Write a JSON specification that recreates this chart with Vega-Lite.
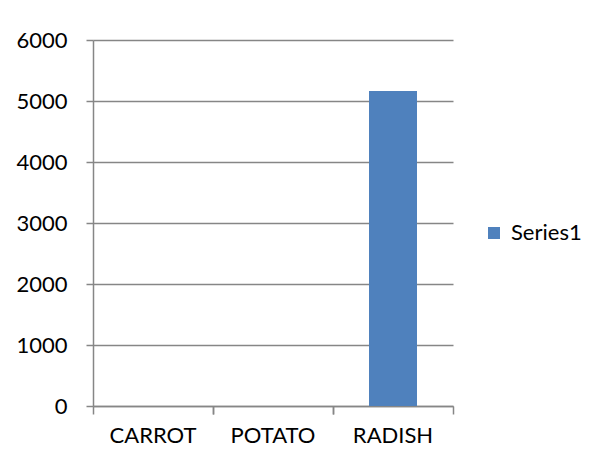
{
  "$schema": "https://vega.github.io/schema/vega-lite/v6.json",
  "width": 360,
  "height": 366,
  "autosize": {"type": "none"},
  "padding": {"left": 93, "top": 40, "right": 150, "bottom": 51},
  "background": "white",
  "config": {
    "font": "Lato",
    "view": {"stroke": null},
    "axis": {
      "labelFont": "Lato",
      "labelFontSize": 22,
      "labelColor": "#000000",
      "domainColor": "#868686",
      "domainWidth": 1.5,
      "tickColor": "#868686",
      "tickWidth": 1.5,
      "gridColor": "#868686",
      "gridWidth": 1.5,
      "title": null
    },
    "legend": {"labelFont": "Lato", "labelFontSize": 22, "labelColor": "#000000"}
  },
  "data": {
    "values": [
      {"crop": "CARROT", "value": 0, "series": "Series1"},
      {"crop": "POTATO", "value": 0, "series": "Series1"},
      {"crop": "RADISH", "value": 5165, "series": "Series1"}
    ]
  },
  "layer": [
    {
      "mark": {"type": "bar", "width": {"band": 0.4}},
      "encoding": {
        "x": {
          "field": "crop",
          "type": "nominal",
          "sort": null,
          "scale": {"paddingInner": 0, "paddingOuter": 0},
          "axis": {
            "orient": "bottom",
            "labelAngle": 0,
            "bandPosition": 0,
            "tickSize": 8,
            "labelPadding": 11,
            "grid": false
          }
        },
        "y": {
          "field": "value",
          "type": "quantitative",
          "scale": {"domain": [0, 6000], "nice": false},
          "axis": {
            "values": [0, 1000, 2000, 3000, 4000, 5000, 6000],
            "format": "d",
            "grid": true,
            "tickSize": 7,
            "labelPadding": 19,
            "labelAlign": "right"
          }
        },
        "color": {
          "field": "series",
          "type": "nominal",
          "scale": {"domain": ["Series1"], "range": ["#4F81BD"]},
          "legend": {
            "title": null,
            "orient": "none",
            "legendX": 390,
            "legendY": 182,
            "padding": 0,
            "symbolType": "square",
            "symbolSize": 144,
            "symbolStrokeWidth": 0,
            "labelOffset": 6
          }
        }
      }
    },
    {
      "mark": {"type": "bar", "opacity": 0, "width": {"band": 0.4}},
      "encoding": {
        "x": {
          "field": "crop",
          "type": "nominal",
          "sort": null,
          "scale": {"paddingInner": 0, "paddingOuter": 0},
          "axis": {
            "orient": "bottom",
            "bandPosition": 1,
            "labels": false,
            "domain": false,
            "tickSize": 8,
            "grid": false
          }
        },
        "y": {"field": "value", "type": "quantitative"}
      }
    }
  ],
  "resolve": {"axis": {"x": "independent"}}
}
